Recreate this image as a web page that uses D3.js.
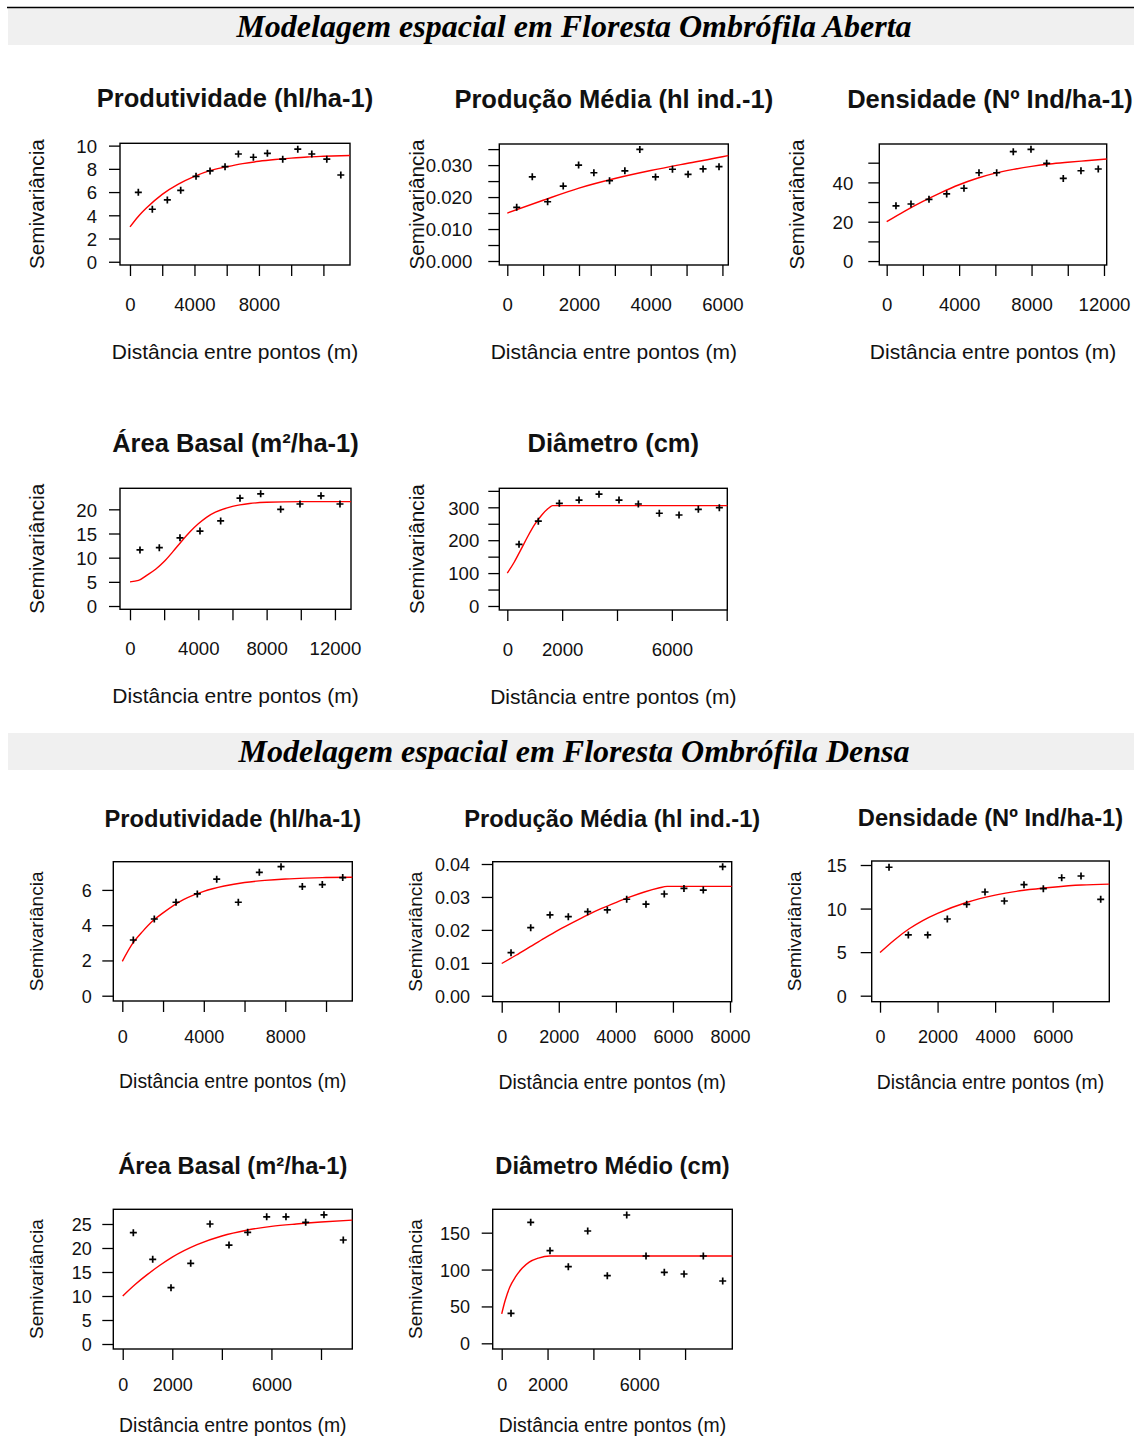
<!DOCTYPE html>
<html><head><meta charset="utf-8">
<script src="https://cdn.jsdelivr.net/npm/d3@7/dist/d3.min.js"></script>
<style>body{margin:0;background:#fff}</style>
</head><body>
<svg id="chart" width="1134" height="1437"></svg>
<script>
// ---------------- DATA ----------------
const sectionTitles = ["Modelagem espacial em Floresta Ombrófila Aberta", "Modelagem espacial em Floresta Ombrófila Densa"];
const panelTitles = ["Produtividade (hl/ha-1)", "Produção Média (hl ind.-1)", "Densidade (Nº Ind/ha-1)", "Área Basal (m²/ha-1)", "Diâmetro (cm)",
                     "Produtividade (hl/ha-1)", "Produção Média (hl ind.-1)", "Densidade (Nº Ind/ha-1)", "Área Basal (m²/ha-1)", "Diâmetro Médio (cm)"];
const yAxisTitle = "Semivariância";
const xAxisTitle = "Distância entre pontos (m)";

// Aberta - Produtividade
const abProdLag = [517, 1386, 2317, 3146, 4097, 4966, 5897, 6725, 7656, 8525, 9476, 10410, 11280, 12210, 13080];
const abProdGamma = [5.98, 4.52, 5.32, 6.15, 7.36, 7.82, 8.19, 9.28, 9.0, 9.34, 8.83, 9.69, 9.28, 8.83, 7.47];
const abProdModelLag = [0, 500, 1000, 2000, 3000, 4000, 5000, 6000, 7000, 8000, 9000, 10000, 11000, 12000, 13650];
const abProdModelGamma = [3.0, 3.88, 4.6, 5.8, 6.68, 7.35, 7.87, 8.18, 8.45, 8.65, 8.8, 8.92, 9.02, 9.08, 9.15];
// Aberta - Produção Média
const abMedLag = [262, 697, 1125, 1560, 1989, 2415, 2852, 3279, 3696, 4134, 4607, 5042, 5460, 5905];
const abMedGamma = [0.01678, 0.02634, 0.01853, 0.02344, 0.0300, 0.0276, 0.0251, 0.0282, 0.0349, 0.0263, 0.0287, 0.0271, 0.0288, 0.0295];
const abMedModelLag = [0, 1000, 2000, 3000, 4000, 5000, 6000, 6164];
const abMedModelGamma = [0.0150, 0.0190, 0.0228, 0.0258, 0.0283, 0.0305, 0.0326, 0.0330];
// Aberta - Densidade
const abDenLag = [513, 1342, 2336, 3313, 4268, 5097, 6074, 6991, 7968, 8835, 9752, 10729, 11684];
const abDenGamma = [28.1, 29.0, 31.4, 34.1, 37.0, 44.9, 44.9, 55.6, 56.8, 49.7, 42.0, 45.9, 46.8];
const abDenModelLag = [0, 1000, 2000, 3000, 4000, 5000, 6000, 7000, 8000, 9000, 10000, 11000, 12150];
const abDenModelGamma = [20, 25.4, 30.3, 34.8, 38.8, 42.1, 44.7, 46.6, 48.1, 49.3, 50.2, 51.0, 51.9];
// Aberta - Área Basal
const abAreaLag = [585, 1717, 2927, 4098, 5308, 6440, 7651, 8822, 9953, 11183, 12295];
const abAreaGamma = [11.6, 12.07, 14.1, 15.5, 17.6, 22.3, 23.2, 20.0, 21.1, 22.8, 21.1];
const abAreaModelLag = [0, 500, 1000, 1500, 2000, 2500, 3000, 3500, 4000, 4500, 5000, 6000, 7000, 8000, 10000, 12940];
const abAreaModelGamma = [5.0, 5.3, 6.4, 7.6, 9.2, 11.2, 13.3, 15.3, 17.0, 18.4, 19.4, 20.6, 21.2, 21.45, 21.6, 21.6];
// Aberta - Diâmetro
const abDiamLag = [427, 1131, 1897, 2615, 3344, 4073, 4778, 5543, 6262, 6966, 7732];
const abDiamGamma = [187.5, 258, 312, 322, 340, 322, 310, 282, 276.6, 294, 299];
const abDiamModelLag = [0, 250, 500, 750, 1000, 1250, 1500, 1650, 8022];
const abDiamModelGamma = [100, 133, 172, 212, 248, 276, 297, 305, 305];
// Densa - Produtividade
const deProdLag = [540, 1571, 2636, 3682, 4634, 5695, 6726, 7791, 8837, 9818, 10820];
const deProdGamma = [3.16, 4.35, 5.30, 5.77, 6.61, 5.30, 7.0, 7.32, 6.19, 6.30, 6.70];
const deProdModelLag = [0, 500, 1000, 1500, 2000, 3000, 4000, 5000, 6000, 7000, 8000, 9000, 10000, 11290];
const deProdModelGamma = [1.95, 2.95, 3.65, 4.25, 4.7, 5.45, 5.92, 6.22, 6.42, 6.54, 6.62, 6.67, 6.7, 6.72];
// Densa - Produção Média
const deMedLag = [326, 1016, 1692, 2334, 3013, 3700, 4380, 5056, 5697, 6387, 7064, 7743];
const deMedGamma = [0.01307, 0.02067, 0.02453, 0.0240, 0.02553, 0.02605, 0.0293, 0.0278, 0.0309, 0.0326, 0.0321, 0.0392];
const deMedModelLag = [0, 500, 1000, 1500, 2000, 2500, 3000, 3500, 4000, 4500, 5000, 5500, 5800, 8060];
const deMedModelGamma = [0.0098, 0.0123, 0.0149, 0.0175, 0.0200, 0.0223, 0.0245, 0.0265, 0.0283, 0.0300, 0.0315, 0.0327, 0.0332, 0.0332];
// Densa - Densidade
const deDenLag = [313, 984, 1657, 2339, 3012, 3648, 4320, 5003, 5675, 6313, 6984, 7668];
const deDenGamma = [14.74, 6.97, 6.97, 8.80, 10.49, 11.9, 10.87, 12.74, 12.28, 13.54, 13.74, 11.06];
const deDenModelLag = [0, 500, 1000, 1500, 2000, 3000, 4000, 5000, 6000, 7000, 7967];
const deDenModelGamma = [4.95, 6.4, 7.65, 8.65, 9.45, 10.7, 11.55, 12.1, 12.45, 12.7, 12.8];
// Densa - Área Basal
const deAreaLag = [428, 1210, 1948, 2743, 3522, 4288, 5042, 5809, 6587, 7382, 8120, 8899];
const deAreaGamma = [23.19, 17.64, 11.74, 16.8, 25.0, 20.6, 23.26, 26.5, 26.5, 25.35, 26.9, 21.67];
const deAreaModelLag = [0, 500, 1000, 1500, 2000, 3000, 4000, 5000, 6000, 7000, 8000, 9263];
const deAreaModelGamma = [10.0, 12.4, 14.5, 16.4, 18.1, 20.7, 22.5, 23.7, 24.5, 25.0, 25.4, 25.8];
// Densa - Diâmetro Médio
const deDiamLag = [406, 1265, 2107, 2906, 3752, 4607, 5454, 6296, 7094, 7954, 8796, 9642];
const deDiamGamma = [40.7, 164.1, 125.6, 103.9, 152.3, 91.7, 174, 118.4, 96.3, 94.0, 118.4, 84.5];
const deDiamModelLag = [0, 150, 350, 600, 900, 1200, 1600, 2100, 10060];
const deDiamModelGamma = [40, 58, 76, 90, 102, 110, 115.5, 118.4, 118.4];

// Axis domains
const xDomains = [[-620, 13650], [-223, 6164], [-408, 12150], [-585, 12940], [-292, 8022],
                  [-442, 11290], [-316, 8060], [-289, 7967], [-380, 9263], [-393, 10060]];
const yDomains = [[-0.28, 10.2], [-0.00125, 0.0366], [-2.0, 59.5], [-0.68, 24.35], [-12.2, 357.8],
                  [-0.3, 7.6], [-0.0018, 0.0407], [-0.69, 15.46], [-1.04, 28.06], [-7.7, 181.7]];

// Tick values and labelled ticks
const xTicks = [d3.range(0, 12001, 2000), d3.range(0, 6001, 1000), d3.range(0, 12001, 2000), d3.range(0, 12001, 2000), d3.range(0, 8001, 2000),
                d3.range(0, 10001, 2000), d3.range(0, 8001, 2000), d3.range(0, 6001, 2000), d3.range(0, 8001, 2000), d3.range(0, 8001, 2000)];
const xLabelled = [[0, 4000, 8000], [0, 2000, 4000, 6000], [0, 4000, 8000, 12000], [0, 4000, 8000, 12000], [0, 2000, 6000],
                   [0, 4000, 8000], [0, 2000, 4000, 6000, 8000], [0, 2000, 4000, 6000], [0, 2000, 6000], [0, 2000, 6000]];
const yTicks = [[0, 2, 4, 6, 8, 10], [0, 0.005, 0.01, 0.015, 0.02, 0.025, 0.03, 0.035], [0, 10, 20, 30, 40, 50], [0, 5, 10, 15, 20], [0, 50, 100, 150, 200, 250, 300, 350],
                [0, 2, 4, 6], [0, 0.01, 0.02, 0.03, 0.04], [0, 5, 10, 15], [0, 5, 10, 15, 20, 25], [0, 50, 100, 150]];
const yLabelled = [[0, 2, 4, 6, 8, 10], [0, 0.01, 0.02, 0.03], [0, 20, 40], [0, 5, 10, 15, 20], [0, 100, 200, 300],
                   [0, 2, 4, 6], [0, 0.01, 0.02, 0.03, 0.04], [0, 5, 10, 15], [0, 5, 10, 15, 20, 25], [0, 50, 100, 150]];
const yFormats = ["d", ".3f", "d", "d", "d", "d", ".2f", "d", "d", "d"];

const lags = [abProdLag, abMedLag, abDenLag, abAreaLag, abDiamLag, deProdLag, deMedLag, deDenLag, deAreaLag, deDiamLag];
const gammas = [abProdGamma, abMedGamma, abDenGamma, abAreaGamma, abDiamGamma, deProdGamma, deMedGamma, deDenGamma, deAreaGamma, deDiamGamma];
const modelLags = [abProdModelLag, abMedModelLag, abDenModelLag, abAreaModelLag, abDiamModelLag, deProdModelLag, deMedModelLag, deDenModelLag, deAreaModelLag, deDiamModelLag];
const modelGammas = [abProdModelGamma, abMedModelGamma, abDenModelGamma, abAreaModelGamma, abDiamModelGamma, deProdModelGamma, deMedModelGamma, deDenModelGamma, deAreaModelGamma, deDiamModelGamma];

// ---------------- LAYOUT ----------------
const boxes = [[120, 350, 143.3, 265], [499.3, 728.3, 144, 265], [879.3, 1106.7, 144, 265], [120, 351, 488.3, 609.3], [499.3, 727.3, 488.3, 610],
               [113.3, 352.3, 861.7, 1001], [492.7, 731.7, 861.7, 1001.7], [871.7, 1109.3, 861, 1001.7], [113.3, 352.3, 1209.3, 1349], [492.7, 732.3, 1209.3, 1349]];
const yLabelGaps = [23, 27, 26, 23, 20, 21.6, 22.7, 25, 21.6, 22.7];
const titleShift = [0, 0, -3, 0, 0, 0, 0, 0, 0, 0];
const xlabShift = [0, 0, 0, 0, 0, 0, 0, 0, -4, -4];
const sectionStyle = [
  {title: 25.5, tick: 18.6, xlab: 21, ylab: 20.7, titleOff: 36.5, xTickBase: 45.5, xlabBase: 94, ylabOff: 83},
  {title: 23.7, tick: 18, xlab: 19.4, ylab: 19.1, titleOff: 35, xTickBase: 41.5, xlabBase: 87, ylabOff: 77.5}
];
const bands = [{y: 8, h: 37, base: 37, line: true}, {y: 733, h: 37, base: 762, line: false}];

const SANS = "'Liberation Sans', Arial, sans-serif";
const svg = d3.select("#chart");
svg.append("rect").attr("width", 1134).attr("height", 1437).attr("fill", "#fff");

bands.forEach((b, i) => {
  svg.append("rect").attr("x", 8).attr("y", b.y).attr("width", 1126).attr("height", b.h).attr("fill", "#f0f0f0");
  if (b.line) svg.append("line").attr("x1", 7).attr("x2", 1134).attr("y1", b.y - 0.5).attr("y2", b.y - 0.5).attr("stroke", "#000").attr("stroke-width", 1.6);
  svg.append("text").attr("x", 574).attr("y", b.base).attr("text-anchor", "middle")
    .attr("font-family", "'Liberation Serif', 'Times New Roman', serif").attr("font-weight", "bold").attr("font-style", "italic")
    .attr("font-size", 32).attr("fill", "#000").text(sectionTitles[i]);
});

panelTitles.forEach((title, i) => {
  const S = sectionStyle[i < 5 ? 0 : 1];
  const [bx0, bx1, by0, by1] = boxes[i];
  const x = d3.scaleLinear().domain(xDomains[i]).range([bx0, bx1]);
  const y = d3.scaleLinear().domain(yDomains[i]).range([by1, by0]);
  const g = svg.append("g");

  // x axis
  const xf = d => xLabelled[i].includes(d) ? String(d) : "";
  const gx = g.append("g").attr("transform", `translate(0,${by1})`)
    .call(d3.axisBottom(x).tickValues(xTicks[i]).tickSize(11).tickFormat(xf));
  gx.select(".domain").remove();
  gx.attr("font-family", SANS).attr("font-size", S.tick).attr("color", "#000");
  gx.selectAll("line").attr("stroke-width", 1.3);
  gx.selectAll("text").attr("y", S.xTickBase).attr("dy", null).attr("fill", "#111");

  // y axis
  const yfmt = d3.format(yFormats[i]);
  const yf = d => yLabelled[i].some(v => Math.abs(v - d) < 1e-9) ? yfmt(d) : "";
  const gy = g.append("g").attr("transform", `translate(${bx0},0)`)
    .call(d3.axisLeft(y).tickValues(yTicks[i]).tickSize(11).tickFormat(yf));
  gy.select(".domain").remove();
  gy.attr("font-family", SANS).attr("font-size", S.tick).attr("color", "#000");
  gy.selectAll("line").attr("stroke-width", 1.3);
  gy.selectAll("text").attr("x", -yLabelGaps[i]).attr("dy", "0.36em").attr("fill", "#111");

  // box
  g.append("rect").attr("x", bx0).attr("y", by0).attr("width", bx1 - bx0).attr("height", by1 - by0)
    .attr("fill", "none").attr("stroke", "#000").attr("stroke-width", 1.4);

  // model line
  const model = modelLags[i].map((d, k) => [d, modelGammas[i][k]]);
  g.append("path").datum(model)
    .attr("d", d3.line().x(d => x(d[0])).y(d => y(d[1])).curve(d3.curveMonotoneX))
    .attr("fill", "none").attr("stroke", "#ff0000").attr("stroke-width", 1.4);

  // points
  const pts = lags[i].map((d, k) => [d, gammas[i][k]]);
  g.selectAll("path.pt").data(pts).join("path").attr("class", "pt")
    .attr("transform", d => `translate(${x(d[0])},${y(d[1])})`)
    .attr("d", "M-3.5,0H3.5M0,-3.5V3.5").attr("stroke", "#000").attr("stroke-width", 1.7);

  // titles
  const cx = (bx0 + bx1) / 2, cy = (by0 + by1) / 2;
  g.append("text").attr("x", cx + titleShift[i]).attr("y", by0 - S.titleOff).attr("text-anchor", "middle")
    .attr("font-family", SANS).attr("font-weight", "bold").attr("font-size", S.title).attr("fill", "#111").text(title);
  g.append("text").attr("x", cx).attr("y", by1 + S.xlabBase + xlabShift[i]).attr("text-anchor", "middle")
    .attr("font-family", SANS).attr("font-size", S.xlab).attr("fill", "#111").text(xAxisTitle);
  g.append("text").attr("transform", `translate(${bx0 - S.ylabOff},${cy}) rotate(-90)`).attr("dy", "0.36em")
    .attr("text-anchor", "middle").attr("font-family", SANS).attr("font-size", S.ylab).attr("fill", "#111").text(yAxisTitle);
});
</script>
</body></html>
